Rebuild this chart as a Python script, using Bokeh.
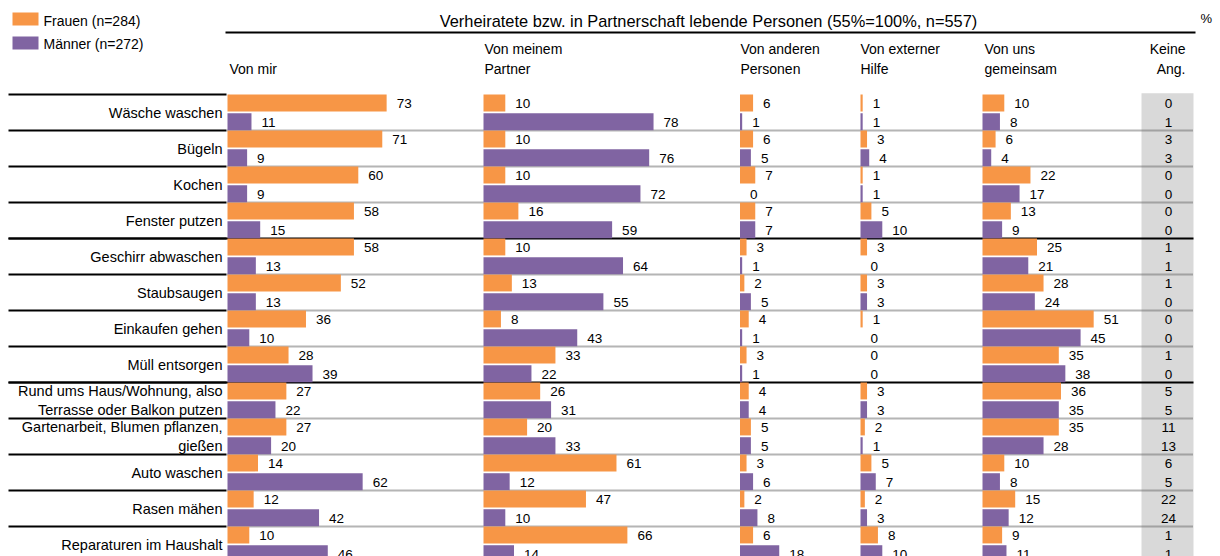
from bokeh.plotting import figure
from bokeh.models import Range1d, ColumnDataSource
from bokeh.transform import dodge
from bokeh.core.properties import value
from bokeh.embed import file_html
from bokeh.resources import INLINE

# ---------------- data ----------------
categories = [
    "Wäsche waschen",
    "Bügeln",
    "Kochen",
    "Fenster putzen",
    "Geschirr abwaschen",
    "Staubsaugen",
    "Einkaufen gehen",
    "Müll entsorgen",
    "Rund ums Haus/Wohnung, also\nTerrasse oder Balkon putzen",
    "Gartenarbeit, Blumen pflanzen,\ngießen",
    "Auto waschen",
    "Rasen mähen",
    "Reparaturen im Haushalt",
]

header_line1 = ["", "Von meinem", "Von anderen", "Von externer", "Von uns"]
header_line2 = ["Von mir", "Partner", "Personen", "Hilfe", "gemeinsam"]
keine_header = ["Keine", "Ang."]
title_text = "Verheiratete bzw. in Partnerschaft lebende Personen (55%=100%, n=557)"
legend_labels = ["Frauen (n=284)", "Männer (n=272)"]

frauen_von_mir = [73, 71, 60, 58, 58, 52, 36, 28, 27, 27, 14, 12, 10]
maenner_von_mir = [11, 9, 9, 15, 13, 13, 10, 39, 22, 20, 62, 42, 46]
frauen_partner = [10, 10, 10, 16, 10, 13, 8, 33, 26, 20, 61, 47, 66]
maenner_partner = [78, 76, 72, 59, 64, 55, 43, 22, 31, 33, 12, 10, 14]
frauen_andere = [6, 6, 7, 7, 3, 2, 4, 3, 4, 5, 3, 2, 6]
maenner_andere = [1, 5, 0, 7, 1, 5, 1, 1, 4, 5, 6, 8, 18]
frauen_extern = [1, 3, 1, 5, 3, 3, 1, 0, 3, 2, 5, 2, 8]
maenner_extern = [1, 4, 1, 10, 0, 3, 0, 0, 3, 1, 7, 3, 10]
frauen_gemeinsam = [10, 6, 22, 13, 25, 28, 51, 35, 36, 35, 10, 15, 9]
maenner_gemeinsam = [8, 4, 17, 9, 21, 24, 45, 38, 35, 28, 8, 12, 11]
frauen_keine_ang = [0, 3, 0, 0, 1, 1, 0, 1, 5, 11, 6, 22, 1]
maenner_keine_ang = [1, 3, 0, 0, 1, 0, 0, 0, 5, 13, 5, 24, 1]

# ---------------- layout helpers ----------------
ORANGE = "#F79646"
PURPLE = "#8064A2"
FONT = "Liberation Sans"
PX_PER_PCT = 2.18
X0 = 227.0           # pixel of the first column's zero
ROW_TOP0 = 94.0
ROW_H = 36.0
W, H = 1220, 556


def ux(px):
    return (px - X0) / PX_PER_PCT


def uy(py):
    return (py - ROW_TOP0) / ROW_H


col_offsets = [ux(227), ux(483), ux(739.5), ux(860), ux(982)]
header_px = [229, 484, 740, 860, 984]

p = figure(width=W, height=H, x_range=Range1d(ux(0), ux(W)),
           y_range=Range1d(uy(H), uy(0)), x_axis_type=None, y_axis_type=None,
           output_backend="svg", toolbar_location=None, min_border=0,
           background_fill_color="white", border_fill_color="white")
p.outline_line_color = None
p.grid.visible = False

# grey "Keine Ang." column
p.quad(left=[ux(1141)], right=[ux(1193)], top=[uy(92.7)], bottom=[uy(600)],
       fill_color="#D9D9D9", line_color=None)

# separators
n = len(categories)
p.segment(x0=[ux(8)] * n, x1=[ux(226)] * n, y0=list(range(n)), y1=list(range(n)),
          line_color="black", line_width=2)
solid = [4, 8]
dotted_rows = [i for i in range(1, n) if i not in solid]
p.segment(x0=[ux(227)] * len(dotted_rows), x1=[ux(1193)] * len(dotted_rows),
          y0=dotted_rows, y1=dotted_rows, line_color="#6a6a6a", line_width=1.8,
          line_dash="1 1")
p.segment(x0=[ux(8)] * len(solid), x1=[ux(1193)] * len(solid), y0=solid, y1=solid,
          line_color="black", line_width=2)
# header rule
p.segment(x0=[ux(225)], x1=[ux(1195)], y0=[uy(32)], y1=[uy(32)],
          line_color="black", line_width=2)

# bars and labels
rows = list(range(n))
series = [
    (frauen_von_mir, maenner_von_mir),
    (frauen_partner, maenner_partner),
    (frauen_andere, maenner_andere),
    (frauen_extern, maenner_extern),
    (frauen_gemeinsam, maenner_gemeinsam),
]
for off, (fv, mv) in zip(col_offsets, series):
    for vals, color, yshift in ((fv, ORANGE, 0.235), (mv, PURPLE, 0.755)):
        src = ColumnDataSource(dict(row=rows, val=vals, lab=[str(v) for v in vals]))
        p.hbar(y=dodge("row", yshift, range=p.y_range), left=off,
               right=dodge("val", off, range=p.x_range), height=0.47,
               source=src, fill_color=color, line_color=None)
        p.text(x=dodge("val", off, range=p.x_range), y=dodge("row", yshift, range=p.y_range),
               text="lab", source=src, x_offset=10, y_offset=1,
               text_font=value(FONT), text_font_size="13.5px", text_color="black",
               text_align="left", text_baseline="middle")

for vals, yshift in ((frauen_keine_ang, 0.235), (maenner_keine_ang, 0.755)):
    src = ColumnDataSource(dict(row=rows, lab=[str(v) for v in vals]))
    p.text(x=ux(1168), y=dodge("row", yshift, range=p.y_range), text="lab", source=src,
           y_offset=1, text_font=value(FONT), text_font_size="13.5px",
           text_color="black", text_align="center", text_baseline="middle")

# category labels
lx, ly, lt = [], [], []
for i, cat in enumerate(categories):
    lines = cat.split("\n")
    k = len(lines)
    for j, line in enumerate(lines):
        lx.append(ux(222))
        ly.append(i + 0.5 + (j - (k - 1) / 2) * 18.5 / ROW_H)
        lt.append(line)
p.text(x=lx, y=ly, text=lt, text_font=value(FONT), text_font_size="14.5px",
       text_color="black", text_align="right", text_baseline="middle")

# column headers
hx, hy, ht = [], [], []
for px, l1, l2 in zip(header_px, header_line1, header_line2):
    if l1:
        hx.append(ux(px)); hy.append(uy(48)); ht.append(l1)
    hx.append(ux(px)); hy.append(uy(68)); ht.append(l2)
p.text(x=hx, y=hy, text=ht, text_font=value(FONT), text_font_size="14px",
       text_color="black", text_align="left", text_baseline="middle")
p.text(x=[ux(1185), ux(1185)], y=[uy(48), uy(68)], text=keine_header,
       text_font=value(FONT), text_font_size="14px", text_color="black",
       text_align="right", text_baseline="middle")

# title and percent sign
p.text(x=[ux(708)], y=[uy(20)], text=[title_text], text_font=value(FONT),
       text_font_size="16.4px", text_color="black", text_align="center",
       text_baseline="middle")
p.text(x=[ux(1200)], y=[uy(18)], text=["%"], text_font=value(FONT),
       text_font_size="13px", text_color="black", text_align="left",
       text_baseline="middle")

# legend
p.quad(left=[ux(12), ux(12)], right=[ux(38), ux(38)], top=[uy(12), uy(36)],
       bottom=[uy(25), uy(49)], fill_color=[ORANGE, PURPLE], line_color=None)
p.text(x=[ux(43), ux(43)], y=[uy(20), uy(43)], text=legend_labels,
       text_font=value(FONT), text_font_size="14px", text_color="black",
       text_align="left", text_baseline="middle")

open("out.html", "w").write(file_html(p, INLINE))
